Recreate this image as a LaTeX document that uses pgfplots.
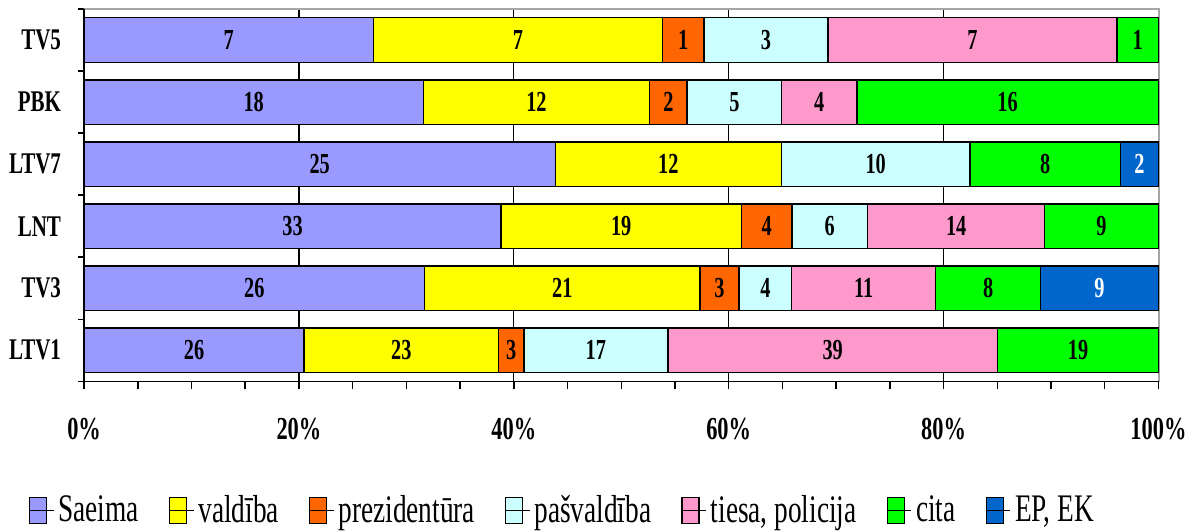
\documentclass[border=0pt]{standalone}
\usepackage{pgfplots}
\pgfplotsset{compat=1.18}
\usepackage{pgfplotstable}
\usepackage{fontspec}
\setmainfont[FakeStretch=0.7]{Liberation Serif}
\definecolor{cSaeima}{HTML}{9999FF}
\definecolor{cValdiba}{HTML}{FFFF00}
\definecolor{cPrez}{HTML}{FF6600}
\definecolor{cPasv}{HTML}{CCFFFF}
\definecolor{cTiesa}{HTML}{FF99CC}
\definecolor{cCita}{HTML}{00FF00}
\definecolor{cEP}{HTML}{0066CC}
\pgfplotstableread{
y S V P Pa T C E tot
0 26 23 3 17 39 19 0 127
1 26 21 3 4 11 8 9 82
2 33 19 4 6 14 9 0 85
3 25 12 0 10 0 8 2 57
4 18 12 2 5 4 16 0 57
5 7 7 1 3 7 1 0 26
}\data
\begin{document}
\begin{tikzpicture}
\path[use as bounding box] (-42pt,-75pt) rectangle (555pt,190.5pt);
\begin{axis}[
 at={(0pt,0pt)}, anchor=south west,
 scale only axis, width=537pt, height=186pt,
 xbar stacked, bar width=0.72,
 xmin=0, xmax=100.05, ymin=-0.5, ymax=5.5,
 clip=false,
 axis line style={draw=gray!70, line width=0.75pt},
 xtick={0,20,...,100}, xticklabels={0\%,20\%,40\%,60\%,80\%,100\%},
 minor x tick num=3,
 xtick pos=left, ytick pos=left,
 tick align=outside,
 major tick length=4pt, minor tick length=4pt,
 x tick style={black, line width=0.75pt},
 minor x tick style={black, line width=0.75pt},
 xmajorgrids, major grid style={black, line width=0.6pt},
 ytick={0,...,5}, yticklabels={LTV1,TV3,LNT,LTV7,PBK,TV5},
 y tick style={draw=none},
 extra y ticks={-0.5,0.5,1.5,2.5,3.5,4.5,5.5}, extra y tick labels={},
 extra y tick style={y tick style={draw=black,line width=0.75pt}, major tick length=3pt},
 xticklabel style={font=\fontsize{16}{18}\selectfont\bfseries, yshift=-11pt},
 yticklabel style={font=\fontsize{15}{18}\selectfont\bfseries, xshift=-4pt},
 every axis plot/.append style={draw=black, line width=0.75pt},
 point meta=explicit,
 nodes near coords={\pgfmathfloatifflags{\pgfplotspointmeta}{0}{}{\pgfmathprintnumber[assume math mode=true]{\pgfplotspointmeta}}},
 every node near coord/.append style={font=\fontsize{14.5}{16}\selectfont\bfseries, text=black},
 legend columns=-1,
 legend style={at={(0.446,-0.347)}, anchor=center, draw=none, fill=none,
   font=\fontsize{19.5}{22}\selectfont,
   /tikz/every even column/.append style={column sep=13pt}},
 legend image code/.code={\draw[#1, draw=black, line width=0.75pt] (0pt,-6.5pt) rectangle (8.5pt,6.5pt); \path (0pt,0pt) -- (12pt,0pt);},
]
\addplot[fill=cSaeima] table[x expr=\thisrow{S}/\thisrow{tot}*100, y=y, meta=S] \data;
\addplot[fill=cValdiba] table[x expr=\thisrow{V}/\thisrow{tot}*100, y=y, meta=V] \data;
\addplot[fill=cPrez] table[x expr=\thisrow{P}/\thisrow{tot}*100, y=y, meta=P] \data;
\addplot[fill=cPasv] table[x expr=\thisrow{Pa}/\thisrow{tot}*100, y=y, meta=Pa] \data;
\addplot[fill=cTiesa] table[x expr=\thisrow{T}/\thisrow{tot}*100, y=y, meta=T] \data;
\addplot[fill=cCita] table[x expr=\thisrow{C}/\thisrow{tot}*100, y=y, meta=C] \data;
\addplot[fill=cEP, every node near coord/.append style={text=white}] table[x expr=\thisrow{E}/\thisrow{tot}*100, y=y, meta=E] \data;
\legend{Saeima, valdība, prezidentūra, pašvaldība, {tiesa, policija}, cita, {EP, EK}}
\draw[black, line width=0.75pt] (rel axis cs:0,1) -- (rel axis cs:0,0) -- (rel axis cs:1,0);
\end{axis}
\end{tikzpicture}
\end{document}
